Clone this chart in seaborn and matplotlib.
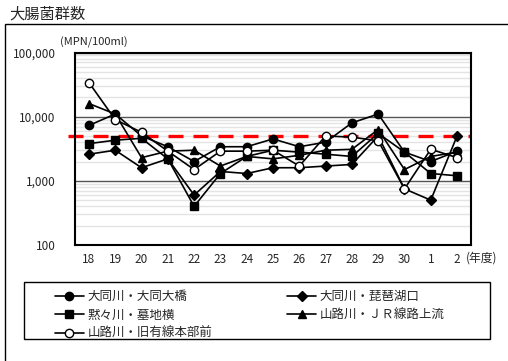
import matplotlib
matplotlib.use("Agg")
import matplotlib.pyplot as plt
import seaborn as sns
from matplotlib.patches import Rectangle
from matplotlib.ticker import FixedLocator, LogLocator, NullFormatter

# 年度
years = ["18", "19", "20", "21", "22", "23", "24", "25", "26", "27", "28", "29", "30", "1", "2"]

# 各地点の大腸菌群数 (MPN/100ml)
daido_ohashi = [7300, 11000, 5000, 3400, 2000, 3400, 3400, 4500, 3400, 4000, 8000, 11000, 2800, 2000, 2900]
biwako_guchi = [2600, 3000, 1600, 2200, 600, 1400, 1300, 1600, 1600, 1700, 1800, 5000, 750, 500, 5000]
bochi_yoko = [3800, 4300, 4600, 2200, 400, 1300, 2400, 3000, 2800, 2600, 2400, 5500, 2800, 1300, 1200]
jr_joryu = [16000, 11000, 2300, 2900, 3000, 1700, 2400, 2200, 2500, 3000, 3100, 6300, 1500, 2400, 2800]
kyu_honbu = [34000, 9000, 5700, 2900, 1500, 2900, 2900, 3000, 1700, 5000, 4800, 4200, 750, 3100, 2300]

standard = 5000
y_ticks = [100, 1000, 10000, 100000]
y_labels = ["100", "1,000", "10,000", "100,000"]

sns.set_style("white")
plt.rcParams["font.family"] = ["Noto Sans CJK JP", "DejaVu Sans"]

fig = plt.figure(figsize=(5.08, 3.61), dpi=100)
ax = fig.add_axes([75 / 508, 1 - 245 / 361, 396 / 508, 192.5 / 361])

x = list(range(len(years)))
series = [
    ("大同川・大同大橋", daido_ohashi, "o", "black"),
    ("黙々川・墓地横", bochi_yoko, "s", "black"),
    ("山路川・旧有線本部前", kyu_honbu, "o", "white"),
    ("大同川・琵琶湖口", biwako_guchi, "D", "black"),
    ("山路川・ＪＲ線路上流", jr_joryu, "^", "black"),
]
# 重ね順: 白丸を最後に
order = [3, 1, 4, 0, 2]
handles = {}
for i in order:
    name, vals, mk, fc = series[i]
    ms = 4.8 if mk == "D" else 6
    sns.lineplot(x=x, y=vals, ax=ax, color="black", lw=1.2, marker=mk,
                 markersize=ms, markerfacecolor=fc, markeredgecolor="black",
                 markeredgewidth=1.0, label=name, legend=False)
    handles[i] = ax.lines[-1]

ax.set_yscale("log")
ax.set_ylim(100, 100000)
ax.set_xlim(-0.53, len(years) - 0.47)

ax.yaxis.set_major_locator(FixedLocator(y_ticks))
ax.set_yticklabels(y_labels)
ax.yaxis.set_minor_locator(LogLocator(base=10, subs=range(2, 10)))
ax.yaxis.set_minor_formatter(NullFormatter())
ax.set_xticks(x)
ax.set_xticklabels(years)
ax.tick_params(axis="both", which="both", length=0, labelsize=8.5)
ax.tick_params(axis="y", pad=14)
ax.tick_params(axis="x", pad=6)

ax.grid(True, which="major", axis="y", color="#555555", lw=1.0)
ax.grid(True, which="minor", axis="y", color="#e4e4e4", lw=1.0)
ax.set_axisbelow(True)
for s in ax.spines.values():
    s.set_visible(True)
    s.set_color("black")
    s.set_linewidth(1.5)

ax.axhline(standard, xmin=-0.018, xmax=1.0, color="red", lw=2.4,
           linestyle=(0, (4.5, 3)), clip_on=False, zorder=1.5)

ax.set_xlabel("")
ax.set_ylabel("")
fig.text(60 / 508, 1 - 42 / 361, "(MPN/100ml)", fontsize=8, va="center", ha="left")
fig.text(466 / 508, 1 - 258 / 361, "(年度)", fontsize=8.5, va="center", ha="left")
fig.text(9 / 508, 1 - 14 / 361, "大腸菌群数", fontsize=11, va="center", ha="left")

fig.add_artist(Rectangle((5 / 508, -0.05), 1.2, 1 - 24 / 361 + 0.05,
                         transform=fig.transFigure, fill=False, ec="black", lw=1.0))
# 凡例の枠
fig.add_artist(Rectangle((24 / 508, 1 - 339 / 361), 466 / 508, 57 / 361,
                         transform=fig.transFigure, fill=False, ec="black", lw=1.0))

leg = fig.legend([handles[i] for i in range(5)], [series[i][0] for i in range(5)],
                 loc="upper left", bbox_to_anchor=(55 / 508, 1 - 290 / 361),
                 ncol=2, fontsize=9, frameon=False,
                 handlelength=2.3, handletextpad=0.3, columnspacing=6.0,
                 labelspacing=0.45, borderpad=0, borderaxespad=0)

fig.savefig("out.png", dpi=100)
